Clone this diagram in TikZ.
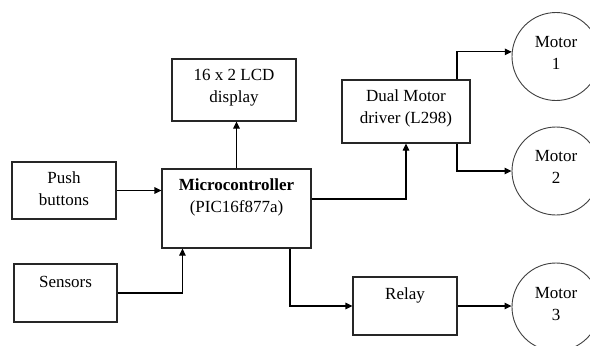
\documentclass[tikz,border=0pt]{standalone}
\usepackage{fontspec}
\setmainfont{Liberation Serif}
\usetikzlibrary{arrows.meta,calc}
\begin{document}
\begin{tikzpicture}[x=1bp,y=-1bp,
  box/.style={draw=black!85,line width=1.1bp,rectangle,inner sep=0pt},
  motor/.style={draw=black!75,line width=0.9bp,circle,inner sep=0pt,minimum size=88bp},
  txt/.style={align=center,inner sep=0pt,font=\fontsize{17bp}{22bp}\selectfont},
  wire/.style={line width=1.1bp,-{Triangle[length=7bp,width=6.5bp]}},
  every node/.style={text=black}]
\clip (0,0) rectangle (590,345);
\fill[white] (0,0) rectangle (590,345);

% blocks
\node[box,minimum width=124bp,minimum height=62bp] (lcd) at (234,90) {};
\node[box,minimum width=104bp,minimum height=57bp] (push) at (64,190.5) {};
\node[box,minimum width=103bp,minimum height=58bp] (sensors) at (65.5,293) {};
\node[box,minimum width=149bp,minimum height=79bp] (micro) at (236.5,208.5) {};
\node[box,minimum width=128bp,minimum height=63bp] (driver) at (406,111.5) {};
\node[box,minimum width=104bp,minimum height=58bp] (relay) at (405,306) {};

% motors
\node[motor] (m1) at (556,56.5) {};
\node[motor] (m2) at (556,171) {};
\node[motor] (m3) at (556,307) {};

% labels
\node[txt] (tlcd) at (234,88) {16 x 2 LCD\\display};
\node[txt] (tpush) at (64,189) {Push\\buttons};
\node[txt] (tsens) at (65.5,282) {Sensors};
\node[txt] (tmicro) at (236.5,197.5) {\textbf{Microcontroller}\\(PIC16f877a)};
\node[txt] (tdrv) at (406,108) {Dual Motor\\driver (L298)};
\node[txt] (trelay) at (405,295) {Relay};
\node[txt] (tm1) at (556,53) {Motor\\1};
\node[txt] (tm2) at (556,167) {Motor\\2};
\node[txt] (tm3) at (556,304) {Motor\\3};

% connections
\draw[wire] (push.east) -- (push.east -| micro.west);
\draw[wire] (sensors.east) -| ($(micro.south west)!0.14!(micro.south east)$);
\draw[wire] (micro.north) -- (micro.north |- lcd.south);
\draw[wire] ([yshift=9.5bp]micro.east) -| (driver.south);
\draw[wire] ([xshift=51bp]driver.north) |- (m1.174);
\draw[wire] ([xshift=51bp]driver.south) |- (m2.west);
\draw[wire] ([xshift=53.5bp]micro.south) |- (relay.west);
\draw[wire] (relay.east) -- (relay.east -| m3.west);
\end{tikzpicture}
\end{document}
